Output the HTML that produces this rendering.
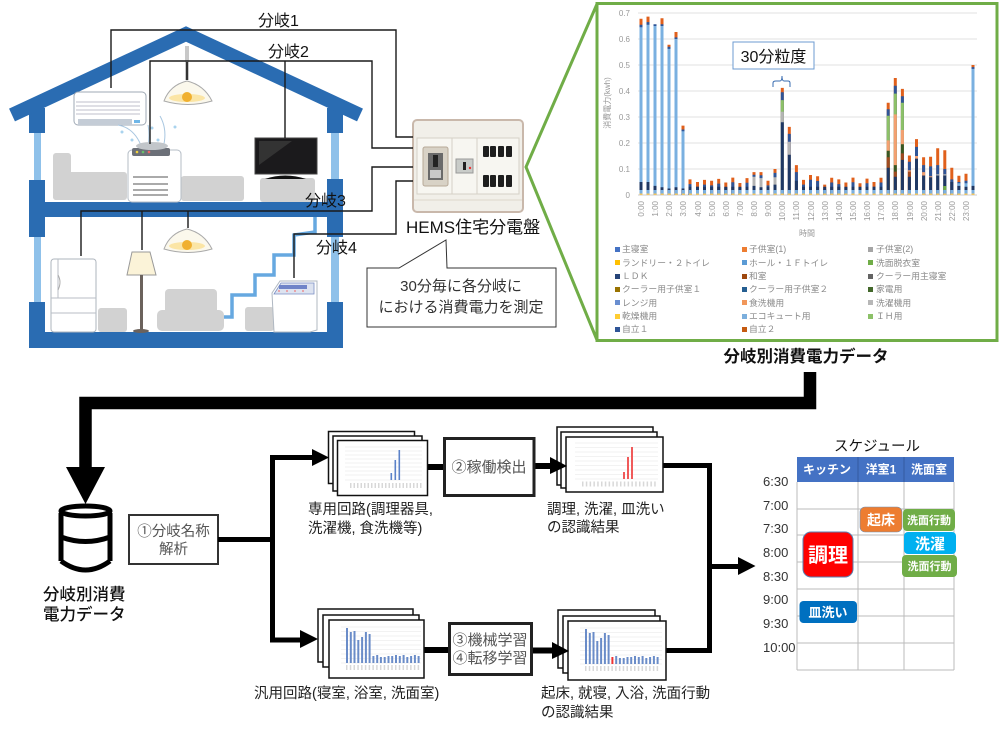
<!DOCTYPE html>
<html lang="ja"><head><meta charset="utf-8"><title>HEMS</title>
<style>
html,body{margin:0;padding:0;background:#fff;width:999px;height:729px;overflow:hidden}
svg{display:block}
text{font-family:"Liberation Sans","Noto Sans CJK JP",sans-serif}
</style></head><body>
<svg xmlns="http://www.w3.org/2000/svg" width="999" height="729" viewBox="0 0 999 729">
<rect width="999" height="729" fill="#fff"/>

<!-- gray furniture -->
<g fill="#d2d2d2">
<rect x="53" y="153" width="18" height="47" rx="3"/><rect x="53" y="172" width="74" height="28" rx="3"/>
<rect x="181" y="176" width="63" height="25" rx="3"/><rect x="260" y="178" width="55" height="24" rx="3"/>
<rect x="165" y="289" width="52" height="41" rx="4"/><rect x="157" y="310" width="67" height="21" rx="5"/>
<rect x="98" y="308" width="29" height="24" rx="3"/><rect x="245" y="307" width="29" height="24" rx="3"/>
</g>
<!-- stairs -->
<path d="M224 317H232V295H255V275H274V255H294V235L315 232V217" fill="none" stroke="#66a8e0" stroke-width="3.5"/>
<!-- house frame -->
<g fill="#8fc1ea"><rect x="34" y="133" width="7" height="50"/><rect x="34" y="237" width="7" height="68"/><rect x="331" y="133" width="8" height="50"/><rect x="331" y="237" width="8" height="68"/></g>
<g fill="#2a6cb2">
<rect x="29" y="108" width="16" height="25"/><rect x="327" y="108" width="16" height="25"/>
<rect x="29" y="180" width="16" height="57"/><rect x="327" y="179" width="16" height="58"/>
<rect x="29" y="302" width="16" height="46"/><rect x="327" y="302" width="16" height="46"/>
<rect x="29" y="202" width="314" height="15"/><rect x="29" y="332" width="314" height="16" rx="2"/>
</g>
<path d="M12 115L186 34L360 115" fill="none" stroke="#2a6cb2" stroke-width="14"/>
<!-- lamp 1 -->
<rect x="185" y="46" width="4" height="34" fill="#c8c8c8"/><rect x="186" y="62" width="2" height="18" fill="#333"/>
<path d="M164 101Q170 85 187 81Q204 85 212 101Q188 108 164 101Z" fill="#fbf8ec" stroke="#aaa"/>
<ellipse cx="187" cy="98" rx="18" ry="4" fill="#fbe5a5"/><circle cx="187" cy="97" r="5" fill="#f0b030"/>
<!-- AC -->
<rect x="74" y="92" width="72" height="33" rx="4" fill="#fff" stroke="#9fa8b4"/>
<g stroke="#aab" stroke-width=".8"><path d="M76 102H140M76 106H140M76 110H140M76 114H140"/></g>
<rect x="78" y="119" width="54" height="6" fill="#c4ccd6"/><rect x="134" y="120" width="6" height="3" fill="#6fb6e8"/>
<path d="M118 125Q135 128 142 148M148 125Q150 135 148 146M160 116Q168 130 163 148" fill="none" stroke="#a8c6e0"/>
<g fill="#a9d3ee"><circle cx="122" cy="132" r="1.5"/><circle cx="132" cy="140" r="1.5"/><circle cx="152" cy="128" r="1.5"/><circle cx="158" cy="140" r="1.5"/><circle cx="175" cy="127" r="1.5"/></g>
<!-- purifier -->
<rect x="128" y="150" width="53" height="52" rx="4" fill="#fff" stroke="#b5bdc6"/>
<rect x="132" y="148" width="38" height="8" rx="2" fill="#6c7078"/><ellipse cx="152" cy="146" rx="16" ry="4" fill="#c2c6ca"/>
<circle cx="137" cy="152" r="1.3" fill="#f3d33c"/><circle cx="143" cy="152" r="1.3" fill="#69c26a"/><circle cx="149" cy="152" r="1.3" fill="#e66"/>
<path d="M133 177H168M133 184H168M133 190H168M133 195H168" stroke="#555"/>
<!-- TV -->
<rect x="255" y="138" width="62" height="36" fill="#1b1a1c" stroke="#444"/><path d="M259 141H292L259 165Z" fill="#333"/>
<path d="M265 179Q285 172 306 179Z" fill="#111"/>
<!-- fridge -->
<rect x="51" y="259" width="45" height="73" rx="3" fill="#fff" stroke="#aeb5bd"/>
<path d="M51 298H96M51 313H96M58 259V298" stroke="#b8bec5" fill="none"/><path d="M58 275Q62 282 58 290" stroke="#aaa" fill="none"/>
<!-- floor lamp -->
<path d="M132 252H150L156 275H127Z" fill="#fbf3d8" stroke="#999"/>
<rect x="140" y="275" width="3" height="55" fill="#6b625c"/><ellipse cx="141" cy="331" rx="8" ry="2" fill="#6b625c"/>
<!-- lamp 2 -->
<path d="M164 249Q170 233 187 229Q204 233 212 249Q188 256 164 249Z" fill="#fbf8ec" stroke="#aaa"/>
<ellipse cx="187" cy="246" rx="18" ry="4" fill="#fbe5a5"/><circle cx="187" cy="245" r="5" fill="#f0b030"/>
<!-- washer -->
<path d="M272 293L280 281H317V330L310 332H274Z" fill="#fff" stroke="#b0b8c2"/>
<path d="M274 294L281 283H314V294Z" fill="#dde3f0" stroke="#7a8fc4" stroke-width=".8"/>
<rect x="279" y="285" width="28" height="4" fill="#6f84c8"/>
<g fill="#e77"><circle cx="279" cy="291" r=".9"/><circle cx="287" cy="291" r=".9"/><circle cx="295" cy="291" r=".9"/><circle cx="303" cy="291" r=".9"/></g>
<!-- panel -->
<rect x="413" y="120" width="110" height="92" rx="4" fill="#f1efe9" stroke="#c9b8ab" stroke-width="2"/>
<rect x="417" y="138" width="102" height="56" fill="#f7f6f1" stroke="#d5d0c6"/>
<path d="M452 138V194M477 138V194" stroke="#d5d0c6"/><path d="M414 200H522" stroke="#ddd7cc"/>
<rect x="423" y="147" width="25" height="39" rx="2" fill="#d8d2c6" stroke="#b7a998"/>
<rect x="428" y="153" width="15" height="27" fill="#6a6a6a"/><rect x="433" y="155" width="5" height="12" fill="#222"/><rect x="430" y="170" width="11" height="8" fill="#c8c8c8"/>
<rect x="456" y="159" width="17" height="14" fill="#c9ccc9" stroke="#999"/><rect x="463" y="162" width="3" height="8" fill="#222"/><circle cx="470" cy="168" r="1.2" fill="#e33"/>
<g fill="#1e1e1e"><rect x="483" y="146" width="6" height="11" rx="1"/><rect x="490" y="146" width="6" height="11" rx="1"/><rect x="498" y="146" width="6" height="11" rx="1"/><rect x="506" y="146" width="6" height="11" rx="1"/><rect x="483" y="175" width="6" height="12" rx="1"/><rect x="490" y="175" width="6" height="12" rx="1"/><rect x="498" y="175" width="6" height="12" rx="1"/><rect x="506" y="175" width="6" height="12" rx="1"/></g>
<!-- wires -->
<g fill="none" stroke="#1a1a1a" stroke-width="1.4">
<path d="M111 88V30H396V137H413"/>
<path d="M150 144V61H372V148H413M285 61V138"/>
<path d="M81 256V211H372V167H413M142 211V250M188 211V228"/>
<path d="M294 278V234H396V181H413"/>
</g>
<g font-size="16" fill="#111">
<text x="258" y="26">分岐1</text><text x="268" y="57">分岐2</text><text x="305" y="206">分岐3</text><text x="316" y="253">分岐4</text>
</g>
<text x="406" y="233" font-size="17" fill="#111">HEMS住宅分電盤</text>
<!-- callout -->
<path d="M367 268H399L446 240L447 268H556V327H367Z" fill="#fff" stroke="#333"/>
<text x="461" y="291" font-size="15" fill="#333" text-anchor="middle">30分毎に各分岐に</text>
<text x="461" y="312" font-size="15" fill="#333" text-anchor="middle">における消費電力を測定</text>

<!-- chart callout -->
<path d="M597 4L526 167L597 340" fill="none" stroke="#70ad47" stroke-width="3"/>
<rect x="597" y="3.500" width="400" height="337" fill="#fff" stroke="#70ad47" stroke-width="3"/>
<g stroke="#e2e2e2"><path d="M638 13H977M638 39H977M638 65H977M638 91H977M638 117H977M638 143H977M638 169H977"/></g>
<path d="M638 195H977" stroke="#ccc"/>
<!-- bars -->
<g fill="none" stroke-width="3">
<path stroke="#e0601c" d="M641 195V18.700M648 195V16.600M662 195V18.200M669 195V44.700M676 195V32M683 195V125.600M690 195V179.400M697.500 195V182M704.500 195V179.900M711.600 195V180.700M718.700 195V178.900M725.800 195V182.500M732.800 195V177.600M739.900 195V183M747 195V178.100M754 195V172.100M761 195V172.100M768 195V180.700M775 195V169M782.300 195V87.900M789.300 195V126.900M796.400 195V165.100M803.500 195V179.900M810.500 195V175M817.600 195V176.300M824.700 195V184.600M831.700 195V177.800M838.800 195V179.400M845.900 195V182.500M853 195V177.600M860 195V183.300M867 195V178.600M874 195V182M881 195V177.800M888.200 195V102.700M895.300 195V78M902.400 195V88.900M909.400 195V155.500M916.500 195V139.100M923.600 195V157.300M930.600 195V156.800M937.700 195V148.200M944.800 195V150.300M951.800 195V167.700M958.900 195V175.800M966 195V173.700M973 195V65"/>
<path stroke="#2f5597" d="M641 195V24.700M648 195V22.100M655 195V24.200M662 195V24.200M669 195V46.800M676 195V37.400M683 195V129.500M690 195V184.100M697.500 195V186.700M704.500 195V184.600M711.600 195V185.400M718.700 195V183.600M725.800 195V187.200M732.800 195V182.300M739.900 195V187.700M747 195V182.800M754 195V174.700M761 195V175.200M768 195V185.400M775 195V172.900M782.300 195V92.300M789.300 195V133.900M796.400 195V172.100M803.500 195V184.600M810.500 195V179.700M817.600 195V181M824.700 195V189.300M831.700 195V182.500M838.800 195V184.100M845.900 195V187.200M853 195V182.300M860 195V188M867 195V183.300M874 195V186.700M881 195V182.500M888.200 195V109.200M895.300 195V85.800M902.400 195V96.200M909.400 195V161.700M916.500 195V146.900M923.600 195V165.100M930.600 195V166.400M937.700 195V165.100M944.800 195V169M951.800 195V179.400M958.900 195V182M966 195V180.700M973 195V67.100"/>
<path stroke="#7ab0e0" d="M641 195V27.300M648 195V24.700M655 195V26M662 195V26M669 195V48.900M676 195V39M683 195V131.300M958.900 195V183.300M966 195V183.300M973 195V68.900"/>
<path stroke="#8cc168" d="M782.300 195V100.100M888.200 195V115.700M895.300 195V93.600M902.400 195V102.700"/>
<path stroke="#f4a070" d="M888.200 195V140.400M895.300 195V114.400M902.400 195V130M909.400 195V170.300M916.500 195V156M923.600 195V172.100M930.600 195V176.300"/>
<path stroke="#385723" d="M888.200 195V150.800M895.300 195V165.100M902.400 195V144.300"/>
<path stroke="#a04a20" d="M888.200 195V157.300M895.300 195V171.600M902.400 195V153.400M909.400 195V171.600"/>
<path stroke="#b4b4b4" d="M754 195V176.800M761 195V178.100M775 195V177.300M782.300 195V111.800M789.300 195V141.700M937.700 195V174.200M944.800 195V174.200"/>
<path stroke="#1f3864" d="M641 195V182M648 195V182M655 195V185.900M662 195V187.200M669 195V188.500M676 195V187.200M683 195V188.500M690 195V186.700M697.500 195V186.700M704.500 195V186.700M711.600 195V186.700M718.700 195V186.700M725.800 195V186.700M732.800 195V186.700M739.900 195V186.700M747 195V186.700M754 195V185.900M761 195V187.200M768 195V186.700M775 195V184.600M782.300 195V122.200M789.300 195V154.700M796.400 195V180.700M803.500 195V186.700M810.500 195V186.700M817.600 195V186.700M824.700 195V186.700M831.700 195V186.700M838.800 195V186.700M845.900 195V186.700M853 195V186.700M860 195V186.700M867 195V186.700M874 195V186.700M881 195V186.700M888.200 195V167.700M895.300 195V176.800M902.400 195V159.900M909.400 195V176.800M916.500 195V158.600M923.600 195V175.500M930.600 195V177.300M937.700 195V175.500M944.800 195V175.500M951.800 195V182M958.900 195V185.900M966 195V186.700M973 195V185.900"/>
<path stroke="#70ad47" d="M944.800 191V186"/>
</g>
<path d="M639.500 192.500H975" fill="none" stroke="#7ab0e0" stroke-width="5" stroke-dasharray="3 4.064"/>
<path d="M639.500 194.300H975" fill="none" stroke="#f3c560" stroke-width="1.500" stroke-dasharray="3 4.064"/>
<g font-size="8" fill="#999" text-anchor="end">
<text x="630" y="16">0.7</text><text x="630" y="42">0.6</text><text x="630" y="68">0.5</text><text x="630" y="94">0.4</text><text x="630" y="120">0.3</text><text x="630" y="146">0.2</text><text x="630" y="172">0.1</text><text x="630" y="198">0</text>
<text transform="translate(644,201) rotate(-90)">0:00</text><text transform="translate(658,201) rotate(-90)">1:00</text><text transform="translate(672,201) rotate(-90)">2:00</text><text transform="translate(686,201) rotate(-90)">3:00</text><text transform="translate(701,201) rotate(-90)">4:00</text><text transform="translate(715,201) rotate(-90)">5:00</text><text transform="translate(729,201) rotate(-90)">6:00</text><text transform="translate(743,201) rotate(-90)">7:00</text><text transform="translate(757,201) rotate(-90)">8:00</text><text transform="translate(771,201) rotate(-90)">9:00</text><text transform="translate(785,201) rotate(-90)">10:00</text><text transform="translate(799,201) rotate(-90)">11:00</text><text transform="translate(814,201) rotate(-90)">12:00</text><text transform="translate(828,201) rotate(-90)">13:00</text><text transform="translate(842,201) rotate(-90)">14:00</text><text transform="translate(856,201) rotate(-90)">15:00</text><text transform="translate(870,201) rotate(-90)">16:00</text><text transform="translate(884,201) rotate(-90)">17:00</text><text transform="translate(898,201) rotate(-90)">18:00</text><text transform="translate(913,201) rotate(-90)">19:00</text><text transform="translate(927,201) rotate(-90)">20:00</text><text transform="translate(941,201) rotate(-90)">21:00</text><text transform="translate(955,201) rotate(-90)">22:00</text><text transform="translate(969,201) rotate(-90)">23:00</text>
</g>
<text transform="translate(610,103) rotate(-90)" font-size="8" fill="#999" text-anchor="middle">消費電力(kwh)</text>
<text x="807" y="236" font-size="8" fill="#999" text-anchor="middle">時間</text>
<rect x="733" y="42" width="81" height="27" fill="#fff" stroke="#6c9bd2"/>
<text x="773.500" y="62" font-size="16" fill="#111" text-anchor="middle">30分粒度</text>
<path d="M773 87V83Q773 81 776 81H780Q782 81 782 76Q782 81 784 81H788Q790 81 790 83V87" fill="none" stroke="#3a6cb0"/>
<!-- legend -->
<g font-size="8.800" fill="#8a8a8a">
<text x="622" y="252">主寝室</text><text x="749" y="252">子供室(1)</text><text x="876" y="252">子供室(2)</text>
<text x="622" y="266">ランドリー・２トイレ</text><text x="749" y="266">ホール・１Ｆトイレ</text><text x="876" y="266">洗面脱衣室</text>
<text x="622" y="279">ＬＤＫ</text><text x="749" y="279">和室</text><text x="876" y="279">クーラー用主寝室</text>
<text x="622" y="292">クーラー用子供室１</text><text x="749" y="292">クーラー用子供室２</text><text x="876" y="292">家電用</text>
<text x="622" y="306">レンジ用</text><text x="749" y="306">食洗機用</text><text x="876" y="306">洗濯機用</text>
<text x="622" y="319">乾燥機用</text><text x="749" y="319">エコキュート用</text><text x="876" y="319">ＩＨ用</text>
<text x="622" y="332">自立１</text><text x="749" y="332">自立２</text>
</g>
<g>
<rect x="615" y="247" width="5" height="5" fill="#4472c4"/><rect x="742" y="247" width="5" height="5" fill="#ed7d31"/><rect x="868" y="247" width="5" height="5" fill="#a5a5a5"/>
<rect x="615" y="260" width="5" height="5" fill="#ffc000"/><rect x="742" y="260" width="5" height="5" fill="#5b9bd5"/><rect x="868" y="260" width="5" height="5" fill="#70ad47"/>
<rect x="615" y="274" width="5" height="5" fill="#264478"/><rect x="742" y="274" width="5" height="5" fill="#9e480e"/><rect x="868" y="274" width="5" height="5" fill="#636363"/>
<rect x="615" y="287" width="5" height="5" fill="#997300"/><rect x="742" y="287" width="5" height="5" fill="#255e91"/><rect x="868" y="287" width="5" height="5" fill="#43682b"/>
<rect x="615" y="300" width="5" height="5" fill="#698ed0"/><rect x="742" y="300" width="5" height="5" fill="#f1975a"/><rect x="868" y="300" width="5" height="5" fill="#b7b7b7"/>
<rect x="615" y="314" width="5" height="5" fill="#ffcd33"/><rect x="742" y="314" width="5" height="5" fill="#7cafdd"/><rect x="868" y="314" width="5" height="5" fill="#8cc168"/>
<rect x="615" y="327" width="5" height="5" fill="#2f5597"/><rect x="742" y="327" width="5" height="5" fill="#c55a11"/>
</g>
<text x="806" y="362" font-size="16.500" font-weight="bold" fill="#111" text-anchor="middle">分岐別消費電力データ</text>

<!-- big connector -->
<path d="M810 372V403H85.500V470" fill="none" stroke="#000" stroke-width="12.500"/>
<path d="M66 467H105L85.500 504Z" fill="#000"/>
<!-- cylinder -->
<path d="M61 513V561M110 513V561" stroke="#000" stroke-width="5" fill="none"/>
<ellipse cx="85.500" cy="511" rx="24.500" ry="5" fill="#fff" stroke="#000" stroke-width="5"/>
<path d="M61 537Q85.500 546 110 537M61 561Q85.500 579 110 561" fill="none" stroke="#000" stroke-width="5"/>
<text x="43" y="600" font-size="16.500" font-weight="500" fill="#111">分岐別消費</text>
<text x="43" y="620" font-size="16.500" font-weight="500" fill="#111">電力データ</text>
<!-- box1 -->
<rect x="129" y="515" width="89" height="49" fill="#fff" stroke="#333" stroke-width="2"/>
<text x="173.500" y="536" font-size="14.500" fill="#555" text-anchor="middle">①分岐名称</text>
<text x="173.500" y="554" font-size="14.500" fill="#555" text-anchor="middle">解析</text>
<!-- flow lines -->
<g fill="none" stroke="#000">
<path d="M218 539.500H273" stroke-width="5"/>
<path d="M314 457.500H272.500V640H304" stroke-width="5"/>
<path d="M428 467H444" stroke-width="6"/><path d="M534 466H552" stroke-width="6"/>
<path d="M424 650H449" stroke-width="6"/><path d="M532 650.500H555" stroke-width="6"/>
<path d="M663 465.500H709.500V650.500H666M709 566.500H740" stroke-width="5"/>
</g>
<!-- card stacks -->
<g fill="#fff" stroke="#111" stroke-width="1.500">
<rect x="328.500" y="431.500" width="86" height="52"/><rect x="333" y="436" width="89" height="55"/><rect x="337.500" y="440.500" width="90" height="55"/>
<rect x="557" y="427" width="96" height="58"/><rect x="561" y="432" width="96" height="56"/><rect x="566" y="437" width="97" height="55"/>
<rect x="318" y="609" width="95" height="53"/><rect x="323" y="615" width="96" height="52"/><rect x="329" y="620" width="95" height="58"/>
<rect x="558" y="610" width="97" height="58"/><rect x="563" y="616" width="97" height="57"/><rect x="568" y="621" width="98" height="59"/>
</g>
<!-- mini charts -->
<g fill="none">
<path stroke="#e6e6e6" stroke-width=".6" d="M345 447H422M345 451H422M345 455H422M345 459H422M345 463H422M345 467H422M345 471H422M345 475H422M345 480H422"/>
<path stroke="#d8d8d8" stroke-width="5" stroke-dasharray="1.500 2" d="M350 485.500H422"/>
<path stroke="#5b82c8" stroke-width="1.600" d="M391.300 480V473M395.300 480V460M399.300 480V450"/>
<path stroke="#e6e6e6" stroke-width=".6" d="M575 443H658M575 447.500H658M575 452H658M575 456.500H658M575 461H658M575 465.500H658M575 470H658M575 474.500H658M575 479H658"/>
<path stroke="#d8d8d8" stroke-width="5" stroke-dasharray="1.500 2.300" d="M582 484H658"/>
<path stroke="#f05a5a" stroke-width="2" d="M624 479V472M628 479V457M632 479V447"/>
<path stroke="#e6e6e6" stroke-width=".6" d="M341 627H421M341 631.500H421M341 636H421M341 640.500H421M341 645H421M341 649.500H421M341 654H421M341 658.500H421M341 663H421"/>
<path stroke="#d8d8d8" stroke-width="5" stroke-dasharray="1.500 2.270" d="M346 667.500H421"/>
<path stroke="#6a8cc8" stroke-width="2" d="M347 663V628M350.800 663V632M354.500 663V631M358.300 663V640M362.100 663V637M365.900 663V632M369.600 663V634M373.400 663V656M377.200 663V655M380.900 663V657M384.700 663V657M388.500 663V656M392.200 663V656M396 663V655M399.800 663V656M403.600 663V655M407.300 663V657M411.100 663V656M414.900 663V655M418.600 663V656"/>
<path stroke="#e6e6e6" stroke-width=".6" d="M580 628H662M580 632.500H662M580 637H662M580 641.500H662M580 646H662M580 650.500H662M580 655H662M580 659.500H662M580 664H662"/>
<path stroke="#d8d8d8" stroke-width="5" stroke-dasharray="1.500 2.270" d="M585 668.500H660"/>
<path stroke="#6a8cc8" stroke-width="2" d="M586 664V629M589.800 664V633M593.500 664V632M597.300 664V641M601.100 664V638M604.900 664V633M608.600 664V635M616.200 664V656M619.900 664V658M623.700 664V658M627.500 664V657M631.200 664V657M635 664V656M638.800 664V657M642.600 664V656M646.300 664V658M650.100 664V657M653.900 664V656M657.600 664V657"/>
<path stroke="#e33" stroke-width="2" d="M612.400 664V657"/>
</g>
<!-- arrowheads -->
<g fill="#000">
<path d="M312 449L329 457.500L312 466Z"/><path d="M300 630L318 639L300 648Z"/>
<path d="M550 457L567 466L550 474Z"/><path d="M552 642L569 651L552 659Z"/>
<path d="M738 557L755.500 566L738 575Z"/>
</g>
<!-- boxes 2 3 -->
<rect x="444.500" y="438.500" width="89.500" height="57" fill="#fff" stroke="#222" stroke-width="3"/>
<text x="489" y="472" font-size="15" fill="#555" text-anchor="middle">②稼働検出</text>
<rect x="449.500" y="623.500" width="82" height="51" fill="#fff" stroke="#222" stroke-width="3"/>
<text x="490" y="645" font-size="15" fill="#555" text-anchor="middle">③機械学習</text>
<text x="490" y="663" font-size="15" fill="#555" text-anchor="middle">④転移学習</text>
<!-- labels -->
<g font-size="14.500" fill="#222">
<text x="308" y="514">専用回路(調理器具,</text><text x="308" y="533">洗濯機, 食洗機等)</text>
<text x="547" y="514">調理, 洗濯, 皿洗い</text><text x="547" y="532">の認識結果</text>
<text x="254" y="698">汎用回路(寝室, 浴室, 洗面室)</text>
<text x="541" y="698">起床, 就寝, 入浴, 洗面行動</text><text x="541" y="717">の認識結果</text>
</g>
<!-- schedule -->
<text x="877" y="451" font-size="14.500" fill="#111" text-anchor="middle">スケジュール</text>
<g stroke="#bbb" fill="none">
<path d="M797 482V670M858 482V670M904 482V670M954 482V670"/>
<path d="M797 509H954M797 535H954M797 562H954M797 589H954M797 616H954M797 643H954M797 670H954"/>
</g>
<rect x="797" y="457" width="157" height="25" fill="#4472c4"/>
<path d="M858 457V482M904 457V482" stroke="#335aa0"/>
<g font-size="12" font-weight="bold" fill="#fff" text-anchor="middle">
<text x="827" y="473.500">キッチン</text><text x="881" y="473.500">洋室1</text><text x="929" y="473.500">洗面室</text>
</g>
<g font-size="13" fill="#333">
<text x="763" y="486">6:30</text><text x="763" y="510">7:00</text><text x="763" y="533">7:30</text><text x="763" y="557">8:00</text><text x="763" y="581">8:30</text><text x="763" y="604">9:00</text><text x="763" y="628">9:30</text><text x="763" y="652">10:00</text>
</g>
<rect x="803" y="532" width="50" height="45" rx="8" fill="#f00" stroke="#5a7fb0"/>
<text x="828" y="562" font-size="20" font-weight="bold" fill="#fff" text-anchor="middle">調理</text>
<rect x="799.500" y="601" width="57.500" height="22" rx="4" fill="#0070c0"/>
<text x="828" y="617" font-size="13" font-weight="bold" fill="#fff" text-anchor="middle">皿洗い</text>
<rect x="860" y="507" width="42" height="25" rx="5" fill="#ed7d31" stroke="#6f8fb5" stroke-width=".6"/>
<text x="881" y="525" font-size="14" font-weight="bold" fill="#fff" text-anchor="middle">起床</text>
<rect x="903" y="509" width="52" height="22" rx="4" fill="#70ad47"/>
<text x="929" y="524" font-size="11" font-weight="bold" fill="#fff" text-anchor="middle">洗面行動</text>
<rect x="904" y="532" width="52" height="22" rx="4" fill="#00b0f0"/>
<text x="930" y="549" font-size="15" font-weight="bold" fill="#fff" text-anchor="middle">洗濯</text>
<rect x="902" y="555" width="55" height="22" rx="4" fill="#70ad47"/>
<text x="929.500" y="570" font-size="11" font-weight="bold" fill="#fff" text-anchor="middle">洗面行動</text>
</svg>
</body></html>
